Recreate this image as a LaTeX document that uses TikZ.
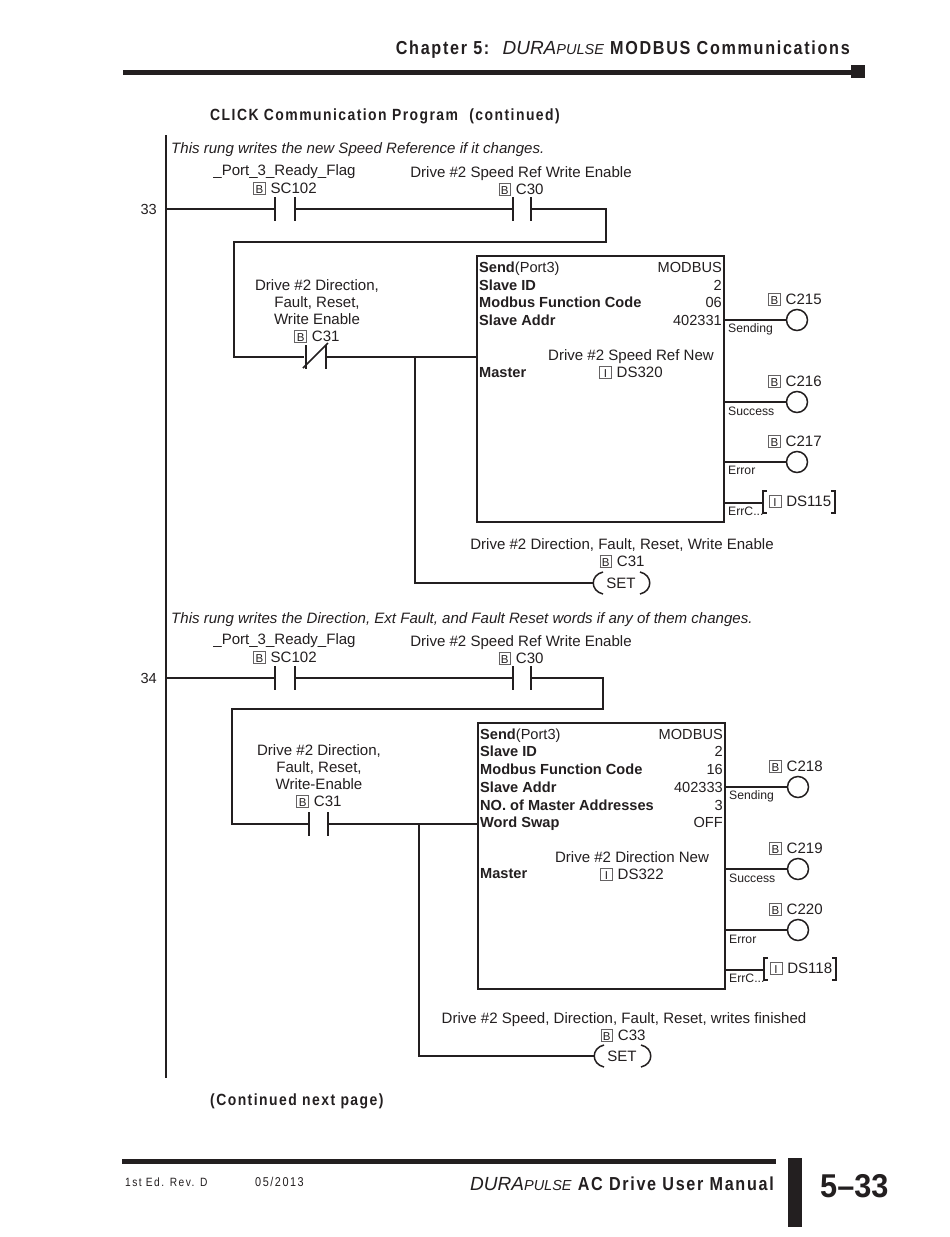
\documentclass[tikz,border=0pt]{standalone}
\usepackage{fontspec}
\setmainfont{Liberation Sans}
\newfontfamily\headfont[LetterSpace=9,FakeStretch=0.86,BoldFont={Liberation Sans Bold}]{Liberation Sans}
\newfontfamily\footfont[LetterSpace=12,FakeStretch=0.85]{Liberation Sans}
\newfontfamily\numfont[FakeStretch=0.93,BoldFont={Liberation Sans Bold}]{Liberation Sans}
\definecolor{ink}{HTML}{231F20}
\newcommand{\regbox}[1]{{\setlength{\fboxsep}{0.6pt}\setlength{\fboxrule}{0.6pt}\fcolorbox{ink!70}{white}{\fontsize{11.5}{11.5}\selectfont\makebox[10pt]{\rule[-0.8pt]{0pt}{10.8pt}#1}}}\hspace{5pt}}
\newcommand{\brandname}{{\itshape DURA{\fontsize{14.5}{15}\selectfont PULSE}}}
\tikzset{
	rung/.style={line width=1.5pt,draw=ink},
	blockbox/.style={line width=1.6pt,draw=ink,outer sep=0pt},
	lbl/.style={inner sep=0pt,text=ink,font=\fontsize{15.05}{17.4}\selectfont,anchor=base},
	lblw/.style={lbl,anchor=base west},
	lble/.style={lbl,anchor=base east,font=\fontsize{14.6}{17.4}\selectfont},
	fld/.style={lblw,font=\fontsize{14.6}{17.4}\selectfont\bfseries},
	pin/.style={lblw,font=\fontsize{12.2}{13}\selectfont},
	coil/.style={circle,draw=ink,line width=1.5pt,minimum size=21pt,inner sep=0pt},
	heading/.style={inner sep=0pt,text=ink,font=\fontsize{16.2}{20}\selectfont\headfont\bfseries,anchor=base west},
	banner/.style={heading,anchor=base east,font=\fontsize{18.8}{20}\selectfont\headfont\bfseries}
}
\begin{document}
\begin{tikzpicture}[x=1pt,y=-1pt]
	\useasboundingbox (0,0) rectangle (950,1237);
	\fill[white] (0,0) rectangle (950,1237);
	
	% page header
	\node[banner] (chapter) at (850,54) {Chapter 5:\hspace{5pt} {\normalfont\fontsize{19}{20}\selectfont\brandname} MODBUS Communications};
	\fill[ink] (123,69.5) rectangle (852,74.5);
	\fill[ink] (851,65) rectangle (865,78);
	\node[heading] (title) at (210,120.5) {CLICK Communication Program\hspace{6pt} (continued)};
	
	% left rail
	\coordinate (railtop) at (166,135);
	\coordinate (railbot) at (166,1078);
	\draw[rung] (railtop) -- (railbot);
	
	% rung 33
	\node[lblw,font=\fontsize{15.05}{17.4}\selectfont\itshape] (note33) at (171,153) {This rung writes the new Speed Reference if it changes.};
	\node[lble] (num33) at (157,214) {33};
	\node[lbl] (name33a) at (284.5,175) {\_Port\_3\_Ready\_Flag};
	\node[lbl] (tag33a) at (285,193) {\regbox{B}SC102};
	\node[lbl] (name33b) at (521,177) {Drive \#2 Speed Ref Write Enable};
	\node[lbl] (tag33b) at (521,194) {\regbox{B}C30};
	\coordinate (r33) at (166,209);
	\coordinate (a33l) at (275,209);
	\coordinate (a33r) at (295,209);
	\coordinate (b33l) at (513,209);
	\coordinate (b33r) at (531,209);
	\draw[rung] (r33) -- (a33l) (a33r) -- (b33l);
	\draw[rung] (a33l) ++(0,-12) -- ++(0,24);
	\draw[rung] (a33r) ++(0,-12) -- ++(0,24);
	\draw[rung] (b33l) ++(0,-12) -- ++(0,24);
	\draw[rung] (b33r) ++(0,-12) -- ++(0,24);
	\draw[rung] (b33r) -- ++(75,0) -- ++(0,33) -- ++(-372,0) -- ++(0,115) -- (304,357);
	\node[lbl] (name33c) at (317,290) {Drive \#2 Direction,};
	\node[lbl] (name33d) at (317,307) {Fault, Reset,};
	\node[lbl] (name33e) at (317,324) {Write Enable};
	\node[lbl] (tag33c) at (317,341) {\regbox{B}C31};
	\coordinate (c33l) at (304,357);
	\coordinate (c33r) at (326,357);
	\coordinate (j33) at (415,357);
	\draw[rung] (c33l) ++(2,-12) -- ++(0,24);
	\draw[rung] (c33r) ++(0,-12) -- ++(0,24);
	\draw[rung] (c33l) ++(-1,11) -- ++(25,-25);
	\draw[rung] (c33r) -- (477,357);
	
	% block 33
	\node[blockbox,draw,minimum width=247pt,minimum height=266pt,inner sep=0pt,anchor=north west] (send33) at (477,256) {};
	\node[fld] (f33a) at (479,272) {Send{\normalfont(Port3)}};
	\node[lble] (v33a) at (722,272) {MODBUS};
	\node[fld] (f33b) at (479,290) {Slave ID};
	\node[lble] (v33b) at (722,290) {2};
	\node[fld] (f33c) at (479,307) {Modbus Function Code};
	\node[lble] (v33c) at (722,307) {06};
	\node[fld] (f33d) at (479,325) {Slave Addr};
	\node[lble] (v33d) at (722,325) {402331};
	\node[lbl] (m33a) at (631,360) {Drive \#2 Speed Ref New};
	\node[fld] (f33e) at (479,377) {Master};
	\node[lbl] (m33b) at (631,377) {\regbox{I}DS320};
	
	% outputs 33
	\node[coil] (y215) at (797,320) {};
	\node[coil] (y216) at (797,402) {};
	\node[coil] (y217) at (797,462) {};
	\coordinate (e33a) at (724,320);
	\coordinate (e33b) at (724,402);
	\coordinate (e33c) at (724,462);
	\coordinate (e33d) at (724,503);
	\coordinate (w33) at (763,503);
	\draw[rung] (e33a) -- (y215) (e33b) -- (y216) (e33c) -- (y217) (e33d) -- (w33);
	\draw[rung] (767,491) -- ++(-4,0) -- ++(0,22) -- ++(4,0);
	\draw[rung] (831,491) -- ++(4,0) -- ++(0,22) -- ++(-4,0);
	\node[lbl] (t215) at (795,304) {\regbox{B}C215};
	\node[lbl] (t216) at (795,386) {\regbox{B}C216};
	\node[lbl] (t217) at (795,446) {\regbox{B}C217};
	\node[lbl] (t115) at (800,506) {\regbox{I}DS115};
	\node[pin] (p33a) at (728,332) {Sending};
	\node[pin] (p33b) at (728,415) {Success};
	\node[pin] (p33c) at (728,474) {Error};
	\node[pin] (p33d) at (728,515) {ErrC...};
	
	% set 33
	\node[lbl] (name33f) at (622,549) {Drive \#2 Direction, Fault, Reset, Write Enable};
	\node[lbl] (tag33f) at (622,566) {\regbox{B}C31};
	\node[lbl] (set33) at (621,588) {SET};
	\coordinate (s33) at (593,583);
	\draw[rung] (c33r) -- (j33) -- (j33 |- s33) -- (s33);
	\draw[rung] (603,572) .. controls (590,575) and (590,591) .. (603,594);
	\draw[rung] (640,572) .. controls (653,575) and (653,591) .. (640,594);
	
	% rung 34
	\node[lblw,font=\fontsize{15.05}{17.4}\selectfont\itshape] (note34) at (171,623) {This rung writes the Direction, Ext Fault, and Fault Reset words if any of them changes.};
	\node[lble] (num34) at (157,683) {34};
	\node[lbl] (name34a) at (284.5,644) {\_Port\_3\_Ready\_Flag};
	\node[lbl] (tag34a) at (285,662) {\regbox{B}SC102};
	\node[lbl] (name34b) at (521,646) {Drive \#2 Speed Ref Write Enable};
	\node[lbl] (tag34b) at (521,663) {\regbox{B}C30};
	\coordinate (r34) at (166,678);
	\coordinate (a34l) at (275,678);
	\coordinate (a34r) at (295,678);
	\coordinate (b34l) at (513,678);
	\coordinate (b34r) at (531,678);
	\draw[rung] (r34) -- (a34l) (a34r) -- (b34l);
	\draw[rung] (a34l) ++(0,-12) -- ++(0,24);
	\draw[rung] (a34r) ++(0,-12) -- ++(0,24);
	\draw[rung] (b34l) ++(0,-12) -- ++(0,24);
	\draw[rung] (b34r) ++(0,-12) -- ++(0,24);
	\draw[rung] (b34r) -- ++(72,0) -- ++(0,31) -- ++(-371,0) -- ++(0,115) -- (309,824);
	\node[lbl] (name34c) at (319,755) {Drive \#2 Direction,};
	\node[lbl] (name34d) at (319,772) {Fault, Reset,};
	\node[lbl] (name34e) at (319,789) {Write-Enable};
	\node[lbl] (tag34c) at (319,806) {\regbox{B}C31};
	\coordinate (c34l) at (309,824);
	\coordinate (c34r) at (328,824);
	\coordinate (j34) at (419,824);
	\draw[rung] (c34l) ++(0,-12) -- ++(0,24);
	\draw[rung] (c34r) ++(0,-12) -- ++(0,24);
	\draw[rung] (c34r) -- (478,824);
	
	% block 34
	\node[blockbox,draw,minimum width=247pt,minimum height=266pt,inner sep=0pt,anchor=north west] (send34) at (478,723) {};
	\node[fld] (f34a) at (480,739) {Send{\normalfont(Port3)}};
	\node[lble] (v34a) at (723,739) {MODBUS};
	\node[fld] (f34b) at (480,756) {Slave ID};
	\node[lble] (v34b) at (723,756) {2};
	\node[fld] (f34c) at (480,774) {Modbus Function Code};
	\node[lble] (v34c) at (723,774) {16};
	\node[fld] (f34d) at (480,792) {Slave Addr};
	\node[lble] (v34d) at (723,792) {402333};
	\node[fld] (f34e) at (480,810) {NO. of Master Addresses};
	\node[lble] (v34e) at (723,810) {3};
	\node[fld] (f34f) at (480,827) {Word Swap};
	\node[lble] (v34f) at (723,827) {OFF};
	\node[lbl] (m34a) at (632,862) {Drive \#2 Direction New};
	\node[fld] (f34g) at (480,878) {Master};
	\node[lbl] (m34b) at (632,879) {\regbox{I}DS322};
	
	% outputs 34
	\node[coil] (y218) at (798,787) {};
	\node[coil] (y219) at (798,869) {};
	\node[coil] (y220) at (798,930) {};
	\coordinate (e34a) at (725,787);
	\coordinate (e34b) at (725,869);
	\coordinate (e34c) at (725,930);
	\coordinate (e34d) at (725,970);
	\coordinate (w34) at (764,970);
	\draw[rung] (e34a) -- (y218) (e34b) -- (y219) (e34c) -- (y220) (e34d) -- (w34);
	\draw[rung] (768,958) -- ++(-4,0) -- ++(0,22) -- ++(4,0);
	\draw[rung] (832,958) -- ++(4,0) -- ++(0,22) -- ++(-4,0);
	\node[lbl] (t218) at (796,771) {\regbox{B}C218};
	\node[lbl] (t219) at (796,853) {\regbox{B}C219};
	\node[lbl] (t220) at (796,914) {\regbox{B}C220};
	\node[lbl] (t118) at (801,973) {\regbox{I}DS118};
	\node[pin] (p34a) at (729,799) {Sending};
	\node[pin] (p34b) at (729,882) {Success};
	\node[pin] (p34c) at (729,943) {Error};
	\node[pin] (p34d) at (729,982) {ErrC...};
	
	% set 34
	\node[lbl] (name34f) at (624,1023) {Drive \#2 Speed, Direction, Fault, Reset, writes finished};
	\node[lbl] (tag34f) at (623,1040) {\regbox{B}C33};
	\node[lbl] (set34) at (622,1061) {SET};
	\coordinate (s34) at (594,1056);
	\draw[rung] (c34r) -- (j34) -- (j34 |- s34) -- (s34);
	\draw[rung] (604,1045) .. controls (591,1048) and (591,1064) .. (604,1067);
	\draw[rung] (641,1045) .. controls (654,1048) and (654,1064) .. (641,1067);
	
	% page footer
	\node[heading] (cont) at (210,1105) {(Continued next page)};
	\fill[ink] (122,1158.5) rectangle (776,1163.5);
	\fill[ink] (788,1158) rectangle (802,1227);
	\node[inner sep=0pt,text=ink,font=\fontsize{12}{14}\selectfont\footfont,anchor=base west] (edition) at (125,1186) {1st Ed. Rev. D};
	\node[inner sep=0pt,text=ink,font=\fontsize{12.8}{14}\selectfont\footfont,anchor=base west] (date) at (255,1186) {05/2013};
	\node[banner] (manual) at (774,1190) {{\normalfont\fontsize{19}{20}\selectfont\brandname} AC Drive User Manual};
	\node[inner sep=0pt,text=ink,font=\fontsize{33}{36}\selectfont\numfont\bfseries,anchor=base west] (pageno) at (820,1197) {5–33};
\end{tikzpicture}
\end{document}
